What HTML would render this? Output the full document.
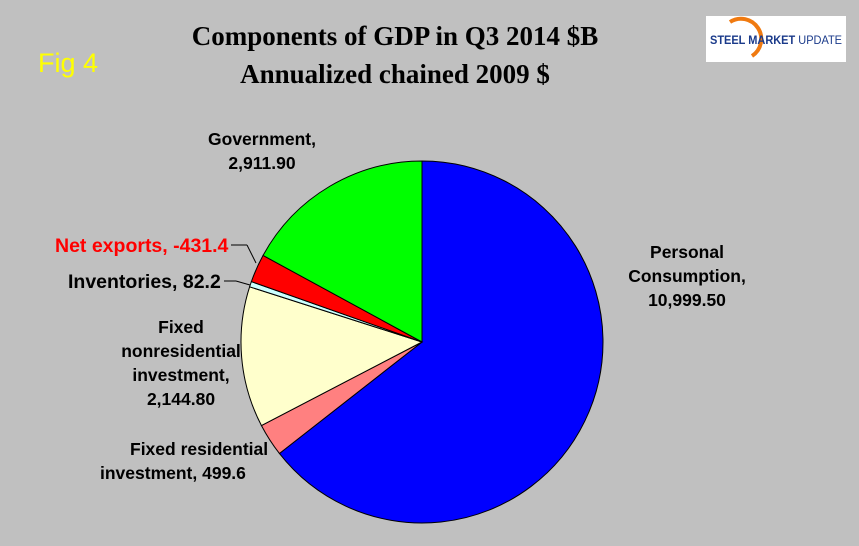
<!DOCTYPE html>
<html><head><meta charset="utf-8"><style>
html,body{margin:0;padding:0;background:#c0c0c0;}
svg{display:block;}
.lbl{font-family:"Liberation Sans",sans-serif;font-weight:bold;font-size:19.5px;fill:#000;}
.sm{font-size:17.5px;}
</style></head><body>
<svg id="chart" width="859" height="546">
<rect width="859" height="546" fill="#c0c0c0"/>
<text x="38" y="72" font-family="Liberation Sans,sans-serif" font-size="27" fill="#ffff00">Fig 4</text>
<text x="395" y="45" text-anchor="middle" font-family="Liberation Serif,serif" font-weight="bold" font-size="27">Components of GDP in Q3 2014 $B</text>
<text x="395" y="83" text-anchor="middle" font-family="Liberation Serif,serif" font-weight="bold" font-size="27">Annualized chained 2009 $</text>
<g>
<rect x="706" y="16" width="140" height="46" fill="#fff"/>
<path d="M730 22 A20 20 0 0 1 752 56" fill="none" stroke="#f07a10" stroke-width="4"/>
<text x="710" y="44" font-family="Liberation Sans,sans-serif" font-weight="bold" font-size="11.5" fill="#1a3a8a" textLength="132" lengthAdjust="spacingAndGlyphs">STEEL MARKET <tspan font-weight="normal">UPDATE</tspan></text>
</g>
<g id="slices"></g>
<line x1="231" y1="245" x2="247" y2="245" stroke="#000"/>
<line x1="247" y1="245" x2="256" y2="263" stroke="#000"/>
<line x1="224" y1="281" x2="236" y2="281" stroke="#000"/>
<line x1="236" y1="281" x2="250" y2="285" stroke="#000"/>
<text class="lbl sm" text-anchor="middle"><tspan x="262" y="145">Government,</tspan><tspan x="262" y="169">2,911.90</tspan></text>
<text class="lbl" x="55" y="252" style="fill:#ff0000">Net exports, -431.4</text>
<text class="lbl" x="68" y="288">Inventories, 82.2</text>
<text class="lbl sm" text-anchor="middle"><tspan x="181" y="333">Fixed</tspan><tspan x="181" y="357">nonresidential</tspan><tspan x="181" y="381">investment,</tspan><tspan x="181" y="405">2,144.80</tspan></text>
<text class="lbl sm"><tspan x="130" y="455">Fixed residential</tspan><tspan x="100" y="479">investment, 499.6</tspan></text>
<text class="lbl sm" text-anchor="middle"><tspan x="687" y="258">Personal</tspan><tspan x="687" y="282">Consumption,</tspan><tspan x="687" y="306">10,999.50</tspan></text>
</svg>
<script>
const categories = ["Personal Consumption","Fixed residential investment","Fixed nonresidential investment","Inventories","Net exports","Government"];
const values = [10999.5, 499.6, 2144.8, 82.2, 431.4, 2911.9];
const colors = ["#0000ff","#ff8080","#ffffcc","#ccffff","#ff0000","#00ff00"];
const cx = 422, cy = 342, r = 181;
const total = values.reduce((a,b)=>a+b,0);
const g = document.getElementById('slices');
let a0 = 0;
function pt(a){return [cx + r*Math.sin(a), cy - r*Math.cos(a)];}
values.forEach((v,i)=>{
  const a1 = a0 + v/total*2*Math.PI;
  const p0 = pt(a0), p1 = pt(a1);
  const large = (a1-a0) > Math.PI ? 1 : 0;
  const p = document.createElementNS('http://www.w3.org/2000/svg','path');
  p.setAttribute('d',`M${cx},${cy} L${p0[0]},${p0[1]} A${r},${r} 0 ${large} 1 ${p1[0]},${p1[1]} Z`);
  p.setAttribute('fill',colors[i]);
  p.setAttribute('stroke','#000');
  p.setAttribute('stroke-width','1');
  
  
  g.appendChild(p);
  a0 = a1;
});
</script>
</body></html>
